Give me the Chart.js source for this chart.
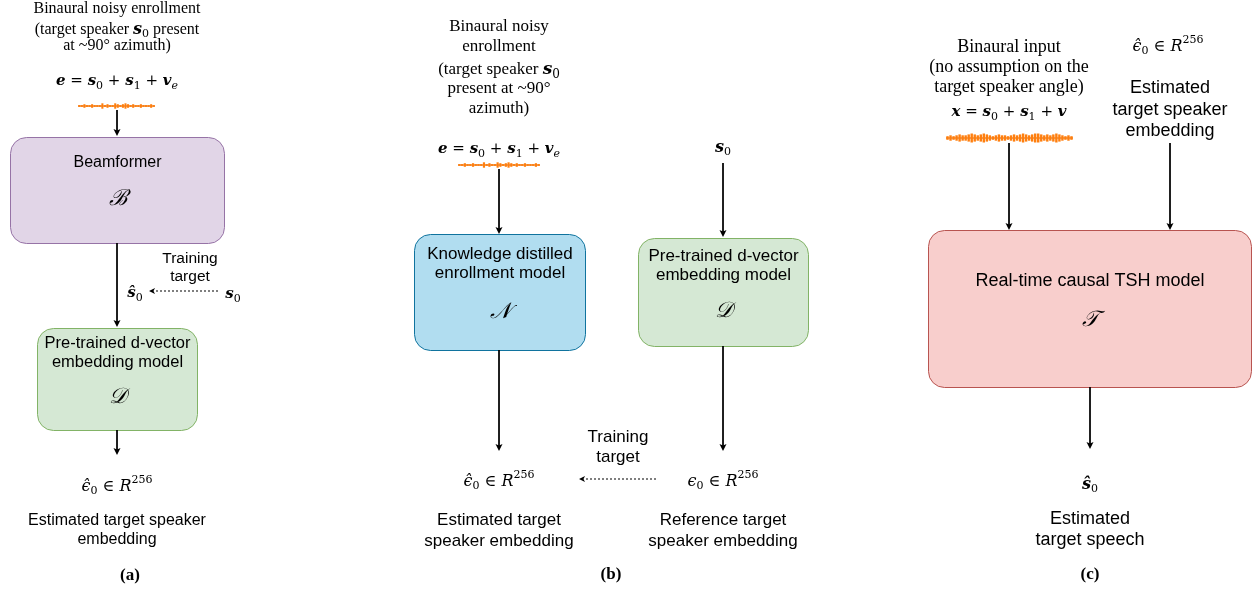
<!DOCTYPE html>
<html>
<head>
<meta charset="utf-8">
<script src="https://cdn.jsdelivr.net/npm/chart.js@4/dist/chart.umd.min.js"></script>
<style>
  body { margin: 0; background: #fff; }
  canvas { display: block; }
</style>
</head>
<body>
<canvas id="diagram" width="1253" height="592"></canvas>
<script>
const diagramCanvas = document.getElementById("diagram");

// boxes of the three pipelines
const boxLabels = [["Beamformer"], ["Pre-trained d-vector", "embedding model"], ["Knowledge distilled", "enrollment model"], ["Pre-trained d-vector", "embedding model"], ["Real-time causal TSH model"]];
const boxSymbols = ["\u212C", "\uD835\uDC9F", "\uD835\uDCA9", "\uD835\uDC9F", "\uD835\uDCAF"];
const boxXs = [[10, 225], [37, 198], [414, 586], [638, 809], [928, 1252]];
const boxYs = [[137, 243], [328, 430], [234, 350], [238, 346], [230, 387]];
const boxTextTop = [26, 15, 20, 18, 51];
const boxSymOff = [62, 69, 78, 73, 90];
const boxFontSize = [16, 16.5, 17, 17, 18];
const boxFills = ["#e1d5e7", "#d5e8d4", "#b1ddf0", "#d5e8d4", "#f8cecc"];
const boxStrokes = ["#9673a6", "#82b366", "#10739e", "#82b366", "#b85450"];

// arrows: [x1, y1, x2, y2]
const solidArrows = [
    [117, 110, 117, 136], [117, 243, 117, 327], [117, 430, 117, 455],
    [499, 169, 499, 234], [499, 350, 499, 451], [723, 163, 723, 237], [723, 346, 723, 451],
    [1009, 143, 1009, 230], [1170, 143, 1170, 230], [1090, 387, 1090, 449]
];
const dashedArrows = [[218, 291, 149, 291], [656, 479, 579, 479]];

// waveform amplitudes
const waveSmall = [1, 1, 2, 1, 1, 2, 1, 1, 1, 3, 1, 2, 1, 1, 3, 2, 1, 2, 3, 2, 1, 2, 1, 1, 2, 1, 1, 1, 2, 1];
const waveBig = [2, 3, 2, 3, 4, 3, 3, 4, 5, 4, 3, 4, 5, 4, 3, 2, 3, 4, 3, 3, 2, 3, 4, 3, 4, 5, 4, 3, 4, 5, 5, 4, 3, 4, 3, 4, 5, 4, 3, 2, 3, 2];
const waveSpans = [[78, 155, 106, waveSmall], [458, 540, 165, waveSmall], [946, 1073, 138, waveBig]];

// math runs: [text, style]  b = bold italic, i = italic, r = upright, t = text serif, _ = subscript, ^ = superscript
const mixE = [["e", "b"], [" = ", "r"], ["s", "b"], ["0", "_"], [" + ", "r"], ["s", "b"], ["1", "_"], [" + ", "r"], ["v", "b"], ["e", "_i"]];
const mixX = [["x", "b"], [" = ", "r"], ["s", "b"], ["0", "_"], [" + ", "r"], ["s", "b"], ["1", "_"], [" + ", "r"], ["v", "b"]];
const embHat = [["\u03F5\u0302", "i"], ["0", "_"], [" \u2208 ", "r"], ["R", "i"], ["256", "^"]];
const embRef = [["\u03F5", "i"], ["0", "_"], [" \u2208 ", "r"], ["R", "i"], ["256", "^"]];
const sHat = [["s\u0302", "b"], ["0", "_"]];
const sTrue = [["s", "b"], ["0", "_"]];
const speakerA = [["(target speaker ", "t"], ["s", "b"], ["0", "_"], [" present", "t"]];
const speakerB = [["(target speaker ", "t"], ["s", "b"], ["0", "_"]];

const mathItems = [
    [mixE, 117, 80, 15], [sHat, 135, 292, 15], [sTrue, 233, 293, 15], [embHat, 117, 485, 16],
    [speakerA, 117, 28, 16],
    [mixE, 499, 148, 15], [embHat, 499, 480, 16], [sTrue, 723, 146, 16], [embRef, 723, 480, 16],
    [speakerB, 499, 68, 17],
    [mixX, 1009, 111, 15], [embHat, 1168, 45, 16], [sHat, 1090, 483, 16]
];

// plain text: [text, x, y, family, size, weight]
const textItems = [
    ["Binaural noisy enrollment", 117, 9, "serif", 16], ["at ~90\u00B0 azimuth)", 117, 46, "serif", 16],
    ["Training", 190, 259, "sans", 15.5], ["target", 190, 277, "sans", 15.5],
    ["Estimated target speaker", 117, 521, "sans", 16], ["embedding", 117, 540, "sans", 16],
    ["(a)", 130, 576, "serif", 17, "bold"],
    ["Binaural noisy", 499, 27, "serif", 17], ["enrollment", 499, 47, "serif", 17], ["present at ~90\u00B0", 499, 89, "serif", 17], ["azimuth)", 499, 109, "serif", 17],
    ["Training", 618, 437, "sans", 17], ["target", 618, 457, "sans", 17],
    ["Estimated target", 499, 520, "sans", 17], ["speaker embedding", 499, 541, "sans", 17],
    ["Reference target", 723, 520, "sans", 17], ["speaker embedding", 723, 541, "sans", 17],
    ["(b)", 611, 575, "serif", 17, "bold"],
    ["Binaural input", 1009, 47, "serif", 18], ["(no assumption on the", 1009, 67, "serif", 18], ["target speaker angle)", 1009, 87, "serif", 18],
    ["Estimated", 1170, 88, "sans", 18], ["target speaker", 1170, 110, "sans", 18], ["embedding", 1170, 131, "sans", 18],
    ["Estimated", 1090, 519, "sans", 18], ["target speech", 1090, 540, "sans", 18],
    ["(c)", 1090, 575, "serif", 17, "bold"]
];

const families = { serif: '"Liberation Serif", serif', sans: '"Liberation Sans", Arial, sans-serif' };

const lineDatasets = solidArrows.map(a => ({
    data: [{ x: a[0], y: a[1] }, { x: a[2], y: a[3] - 5 }],
    showLine: true, borderColor: "#000", borderWidth: 1, pointRadius: 0
})).concat(dashedArrows.map(a => ({
    data: [{ x: a[0], y: a[1] }, { x: a[2] + (a[0] > a[2] ? 5 : -5), y: a[3] }],
    showLine: true, borderColor: "#000", borderWidth: 1, borderDash: [2, 2], pointRadius: 0
})));

const roundRect = (ctx, x, y, w, h, r) => {
    ctx.beginPath();
    ctx.moveTo(x + r, y);
    ctx.arcTo(x + w, y, x + w, y + h, r);
    ctx.arcTo(x + w, y + h, x, y + h, r);
    ctx.arcTo(x, y + h, x, y, r);
    ctx.arcTo(x, y, x + w, y, r);
    ctx.closePath();
};

const mathFont = (style, size) => {
    const fam = '"DejaVu Serif", "Liberation Serif", serif';
    if (style === "t") return `${size}px ${families.serif}`;
    if (style === "b") return `italic bold ${size}px ${fam}`;
    if (style === "i") return `italic ${size}px ${fam}`;
    if (style === "_i") return `italic ${Math.round(size * 0.7)}px ${fam}`;
    if (style === "_" || style === "^") return `${Math.round(size * 0.7)}px ${fam}`;
    return `${size}px ${fam}`;
};

const drawMath = (ctx, runs, cx, cy, size) => {
    let total = 0;
    runs.forEach(r => { ctx.font = mathFont(r[1], size); total += ctx.measureText(r[0]).width; });
    let x = cx - total / 2;
    ctx.textAlign = "left";
    ctx.textBaseline = "alphabetic";
    const base = cy + size * 0.35;
    runs.forEach(r => {
        ctx.font = mathFont(r[1], size);
        let y = base;
        if (r[1] === "_" || r[1] === "_i") y = base + size * 0.22;
        if (r[1] === "^") y = base - size * 0.45;
        ctx.fillText(r[0], x, y);
        x += ctx.measureText(r[0]).width;
    });
};

const diagramPlugin = {
    id: "diagram",
    beforeDatasetsDraw(chart) {
        const ctx = chart.ctx;
        const px = v => chart.scales.x.getPixelForValue(v);
        const py = v => chart.scales.y.getPixelForValue(v);
        ctx.save();
        boxXs.forEach((bx, i) => {
            const x1 = px(bx[0]), x2 = px(bx[1]), y1 = py(boxYs[i][0]), y2 = py(boxYs[i][1]);
            roundRect(ctx, x1 + 0.5, y1 + 0.5, x2 - x1 - 1, y2 - y1, 16);
            ctx.fillStyle = boxFills[i];
            ctx.fill();
            ctx.strokeStyle = boxStrokes[i];
            ctx.lineWidth = 1;
            ctx.stroke();
        });
        // waveforms
        waveSpans.forEach(w => {
            const x1 = px(w[0]), x2 = px(w[1]), yc = py(w[2]), amps = w[3];
            const step = (x2 - x1) / amps.length;
            ctx.strokeStyle = "#9aa7b8";
            ctx.lineWidth = 1;
            ctx.beginPath();
            ctx.moveTo(x1, yc);
            ctx.lineTo(x2, yc);
            ctx.stroke();
            ctx.strokeStyle = "#ff7f0e";
            ctx.lineWidth = step * 0.8;
            amps.forEach((a, k) => {
                const x = x1 + step * (k + 0.5);
                ctx.beginPath();
                ctx.moveTo(x, yc - a * 0.9);
                ctx.lineTo(x, yc + a * 0.9);
                ctx.stroke();
            });
            ctx.lineWidth = 1;
            ctx.beginPath();
            ctx.moveTo(x1, yc);
            ctx.lineTo(x2, yc);
            ctx.stroke();
        });
        ctx.restore();
    },
    afterDatasetsDraw(chart) {
        const ctx = chart.ctx;
        const px = v => chart.scales.x.getPixelForValue(v);
        const py = v => chart.scales.y.getPixelForValue(v);
        ctx.save();
        ctx.fillStyle = "#000";
        // arrow heads
        solidArrows.forEach(a => {
            const x = px(a[2]), y = py(a[3]);
            ctx.beginPath();
            ctx.moveTo(x, y);
            ctx.lineTo(x - 3.5, y - 7);
            ctx.lineTo(x, y - 5.5);
            ctx.lineTo(x + 3.5, y - 7);
            ctx.closePath();
            ctx.fill();
        });
        dashedArrows.forEach(a => {
            const x = px(a[2]), y = py(a[3]);
            ctx.beginPath();
            ctx.moveTo(x, y);
            ctx.lineTo(x + 6, y - 3);
            ctx.lineTo(x + 4.5, y);
            ctx.lineTo(x + 6, y + 3);
            ctx.closePath();
            ctx.fill();
        });
        // box texts
        boxLabels.forEach((lines, i) => {
            const cx = px((boxXs[i][0] + boxXs[i][1]) / 2);
            const y1 = py(boxYs[i][0]);
            ctx.font = `${boxFontSize[i]}px ${families.sans}`;
            ctx.textAlign = "center";
            ctx.textBaseline = "middle";
            lines.forEach((t, k) => ctx.fillText(t, cx, y1 + boxTextTop[i] + k * 19.5));
            ctx.font = `italic 22px "DejaVu Serif", serif`;
            ctx.fillText(boxSymbols[i], cx, y1 + boxSymOff[i]);
        });
        // plain texts
        textItems.forEach(t => {
            ctx.font = `${t[5] || "normal"} ${t[4]}px ${families[t[3]]}`;
            ctx.textAlign = "center";
            ctx.textBaseline = "middle";
            ctx.fillText(t[0], px(t[1]), py(t[2]));
        });
        mathItems.forEach(m => drawMath(ctx, m[0], px(m[1]), py(m[2]), m[3]));
        ctx.restore();
    }
};

new Chart(diagramCanvas, {
    type: "scatter",
    data: { datasets: lineDatasets },
    options: {
        responsive: false,
        animation: false,
        devicePixelRatio: 1,
        layout: { padding: 0 },
        plugins: { legend: { display: false }, tooltip: { enabled: false } },
        scales: {
            x: { type: "linear", min: 0, max: 1253, display: false },
            y: { type: "linear", min: 0, max: 592, reverse: true, display: false }
        }
    },
    plugins: [diagramPlugin]
});
</script>
</body>
</html>
